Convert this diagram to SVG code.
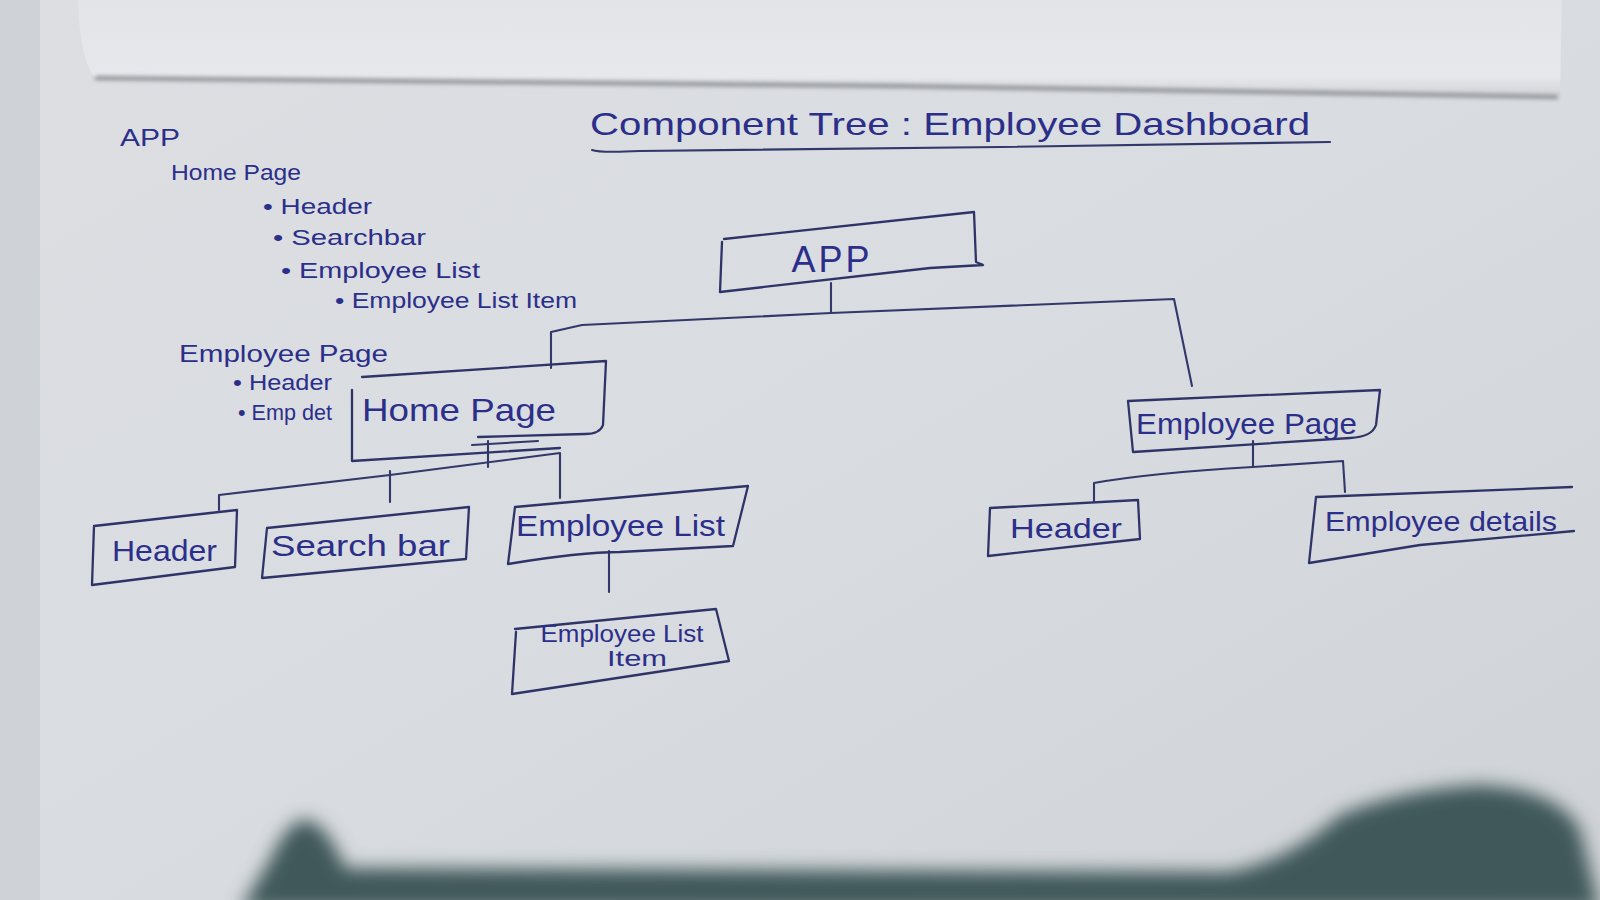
<svg xmlns="http://www.w3.org/2000/svg" width="1600" height="900" viewBox="0 0 1600 900">
<defs>
<filter id="blur" x="-10%" y="-50%" width="120%" height="200%"><feGaussianBlur stdDeviation="9"/></filter>
<filter id="soft" x="-5%" y="-50%" width="110%" height="200%"><feGaussianBlur stdDeviation="2"/></filter>
<linearGradient id="paper" x1="0" y1="0" x2="1" y2="1">
<stop offset="0" stop-color="#dcdee2"/><stop offset="0.5" stop-color="#d9dce0"/><stop offset="1" stop-color="#cfd2d6"/>
</linearGradient>
<linearGradient id="curl" x1="0" y1="0" x2="0" y2="1">
<stop offset="0" stop-color="#e2e4e7"/><stop offset="0.8" stop-color="#e6e8eb"/><stop offset="1" stop-color="#d2d4d8"/>
</linearGradient>
</defs>
<style>
.ink{fill:none;stroke:#33386a;stroke-width:2.1;stroke-linecap:round;stroke-linejoin:round}
.box{fill:none;stroke:#2f3468;stroke-width:2.3;stroke-linecap:round;stroke-linejoin:round}
.t{font-family:"Liberation Sans","DejaVu Sans",sans-serif;fill:#2b2f8a}
.note{font-size:22px}
.lbl{font-size:30px}
</style>
<!-- scene background -->
<rect x="0" y="0" width="1600" height="900" fill="#cfd3d8"/>
<rect x="40" y="0" width="1560" height="900" fill="url(#paper)"/>
<!-- notebook curl at top -->
<path d="M78,0 L1562,0 L1560,95 Q1300,92 900,86 Q500,82 95,78 Q80,60 78,0 Z" fill="url(#curl)"/>
<path d="M95,78 Q500,82 900,86 Q1300,92 1558,97" fill="none" stroke="#8a8d92" stroke-width="4" filter="url(#soft)"/>
<!-- bottom hand shadow -->
<path d="M240,910 L270,860 Q290,815 310,820 Q330,830 345,868 L1230,872 Q1290,860 1340,815 Q1400,790 1480,785 Q1560,790 1580,830 L1600,910 Z" fill="#41595a" filter="url(#blur)"/>

<!-- title -->
<g id="title">
<text class="t" x="590" y="135" font-size="32" textLength="720" lengthAdjust="spacingAndGlyphs">Component Tree : Employee Dashboard</text>
<path class="ink" d="M592,150 Q600,153 640,151 L1000,147 L1330,142"/>
</g>

<!-- outline notes -->
<g id="notes" class="t note">
<text x="120" y="146" font-size="24" textLength="60" lengthAdjust="spacingAndGlyphs">APP</text>
<text x="171" y="180" textLength="130" lengthAdjust="spacingAndGlyphs">Home Page</text>
<text x="263" y="214" textLength="109" lengthAdjust="spacingAndGlyphs">• Header</text>
<text x="273" y="245" textLength="153" lengthAdjust="spacingAndGlyphs">• Searchbar</text>
<text x="281" y="278" textLength="199" lengthAdjust="spacingAndGlyphs">• Employee List</text>
<text x="335" y="308" textLength="242" lengthAdjust="spacingAndGlyphs">• Employee List Item</text>
<text x="179" y="362" font-size="24" textLength="209" lengthAdjust="spacingAndGlyphs">Employee Page</text>
<text x="233" y="390" textLength="99" lengthAdjust="spacingAndGlyphs">• Header</text>
<text x="238" y="420" textLength="94" lengthAdjust="spacingAndGlyphs">• Emp det</text>
</g>

<!-- connectors -->
<g id="connectors" class="ink">
<path d="M831,283 L831,313"/>
<path d="M551,368 L551,332 L582,325 L831,313 L1174,299 L1192,386"/>
<path d="M488,441 L488,467"/>
<path d="M472,445 L538,441"/>
<path d="M219,510 L219,495 L390,475 L560,453 L560,498"/>
<path d="M390,471 L390,502"/>
<path d="M609,551 L609,592"/>
<path d="M1253,441 L1253,467"/>
<path d="M1094,502 L1094,483 Q1150,473 1253,467 L1343,461 L1345,492"/>
</g>

<!-- nodes -->
<g id="node-app">
<path class="box" d="M724,239 L974,212 L976,262 L983,265 L930,268 L720,292 L722,242"/>
<text class="t" x="832" y="272" font-size="36" text-anchor="middle" letter-spacing="3">APP</text>
</g>
<g id="node-home-page">
<path class="box" d="M362,377 L606,361 L603,425 Q600,434 585,434 L478,437 M352,390 L352,461 L560,448"/>
<text class="t" x="362" y="421" font-size="32" textLength="194" lengthAdjust="spacingAndGlyphs">Home Page</text>
</g>
<g id="node-header-left">
<path class="box" d="M94,526 L237,510 L235,567 L92,585 Z"/>
<text class="t lbl" x="112" y="561" textLength="105" lengthAdjust="spacingAndGlyphs">Header</text>
</g>
<g id="node-search-bar">
<path class="box" d="M267,528 L469,507 L466,559 L262,578 Z"/>
<text class="t lbl" x="271" y="556" textLength="179" lengthAdjust="spacingAndGlyphs">Search bar</text>
</g>
<g id="node-employee-list">
<path class="box" d="M515,507 L748,486 L733,546 L620,552 Q580,552 508,564 Z"/>
<text class="t lbl" x="516" y="536" font-size="29" textLength="209" lengthAdjust="spacingAndGlyphs">Employee List</text>
</g>
<g id="node-employee-list-item">
<path class="box" d="M515,629 L716,609 L729,661 L512,694 L516,632"/>
<text class="t" x="622" y="642" font-size="23" text-anchor="middle" textLength="163" lengthAdjust="spacingAndGlyphs">Employee List</text>
<text class="t" x="637" y="666" font-size="22" text-anchor="middle" textLength="60" lengthAdjust="spacingAndGlyphs">Item</text>
</g>
<g id="node-employee-page">
<path class="box" d="M1128,401 L1380,390 L1376,425 Q1372,437 1350,438 L1133,452 Z"/>
<text class="t lbl" x="1136" y="434" textLength="221" lengthAdjust="spacingAndGlyphs">Employee Page</text>
</g>
<g id="node-header-right">
<path class="box" d="M990,508 L1138,500 L1140,539 L988,556 Z"/>
<text class="t" x="1010" y="538" font-size="28" textLength="112" lengthAdjust="spacingAndGlyphs">Header</text>
</g>
<g id="node-employee-details">
<path class="box" d="M1316,497 L1572,487 M1316,497 L1309,563 L1420,545 L1574,531"/>
<text class="t" x="1325" y="531" font-size="28" textLength="232" lengthAdjust="spacingAndGlyphs">Employee details</text>
</g>
</svg>
